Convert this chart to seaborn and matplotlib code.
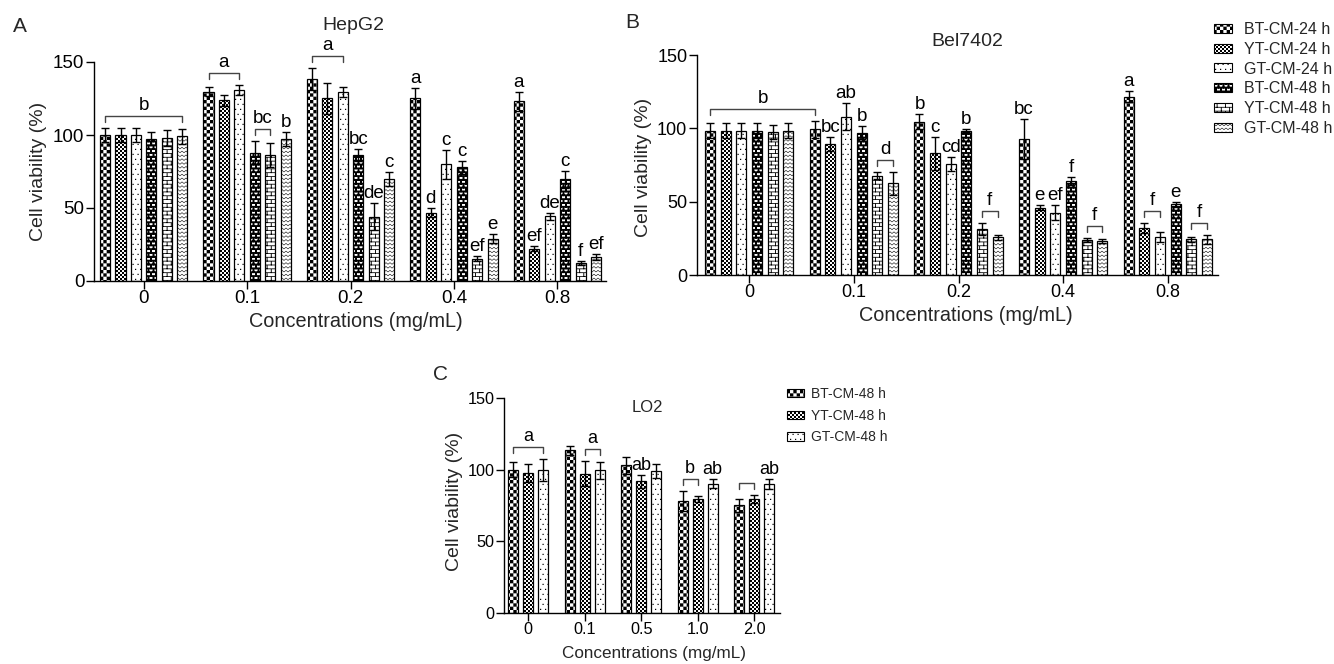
import numpy as np
import pandas as pd
import matplotlib
matplotlib.use("Agg")
import matplotlib.pyplot as plt
import matplotlib.hatch as mhatch
from matplotlib.path import Path
from matplotlib.patches import Patch
import seaborn as sns

# ---------------- data ----------------
conc_ab = ["0", "0.1", "0.2", "0.4", "0.8"]
conc_c = ["0", "0.1", "0.5", "1.0", "2.0"]
treat6 = ["BT-CM-24 h", "YT-CM-24 h", "GT-CM-24 h", "BT-CM-48 h", "YT-CM-48 h", "GT-CM-48 h"]
treat3 = ["BT-CM-48 h", "YT-CM-48 h", "GT-CM-48 h"]

hep_mean = {
    "BT-CM-24 h": [100, 129.6, 138.3, 125, 123],
    "YT-CM-24 h": [100, 123.7, 125, 46.9, 22.2],
    "GT-CM-24 h": [100, 130.8, 129.4, 79.9, 44.4],
    "BT-CM-48 h": [97.5, 87.9, 86.3, 77.9, 69.6],
    "YT-CM-48 h": [98, 86.1, 44, 15.3, 12.4],
    "GT-CM-48 h": [99, 97.3, 69.6, 29.1, 16.5],
}
hep_err = {
    "BT-CM-24 h": [5, 3.2, 7.3, 6.9, 6.4],
    "YT-CM-24 h": [5, 3.6, 10.8, 2.8, 1.6],
    "GT-CM-24 h": [5, 3.4, 3.4, 9.9, 2.5],
    "BT-CM-48 h": [4.5, 8, 3.9, 4.3, 6],
    "YT-CM-48 h": [5.7, 8.2, 9.1, 1.9, 1.1],
    "GT-CM-48 h": [5, 4.8, 4.8, 3.4, 1.8],
}
bel_mean = {
    "BT-CM-24 h": [98.4, 99.3, 104.5, 92.7, 121.6],
    "YT-CM-24 h": [98.4, 89.3, 83, 45.9, 31.8],
    "GT-CM-24 h": [98.4, 108, 75.7, 42.5, 26.1],
    "BT-CM-48 h": [98.4, 97, 98.4, 63.9, 48.2],
    "YT-CM-48 h": [97.5, 67.6, 31.1, 23.6, 24.3],
    "GT-CM-48 h": [98.4, 62.5, 25.7, 23.2, 24.3],
}
bel_err = {
    "BT-CM-24 h": [5, 5.7, 5, 13.9, 3.9],
    "YT-CM-24 h": [5, 4.5, 11.3, 1.6, 3.4],
    "GT-CM-24 h": [5, 9, 4.5, 5, 3.4],
    "BT-CM-48 h": [5, 4.6, 1, 2.7, 1.8],
    "YT-CM-48 h": [5, 2.3, 4.1, 1.4, 1.8],
    "GT-CM-48 h": [5, 8, 1.6, 1.6, 3],
}
lo2_mean = {
    "BT-CM-48 h": [100, 113.5, 103, 78.1, 75.3],
    "YT-CM-48 h": [97.9, 97.2, 91.9, 79.8, 79.5],
    "GT-CM-48 h": [100, 99.5, 98.8, 90.2, 90.2],
}
lo2_err = {
    "BT-CM-48 h": [5.3, 3.2, 5.8, 7, 4.5],
    "YT-CM-48 h": [6.3, 8.6, 4.6, 2.1, 2.6],
    "GT-CM-48 h": [7.7, 5.8, 4.9, 3.1, 3.5],
}
yticks = [0, 50, 100, 150]

# significance letters: (first bar (group, series), last bar, label)
hep_letters = [
    ((0, 0), (0, 5), "b"),
    ((1, 0), (1, 2), "a"), ((1, 3), (1, 4), "bc"), ((1, 5), (1, 5), "b"),
    ((2, 0), (2, 2), "a"), ((2, 3), (2, 3), "bc"), ((2, 4), (2, 4), "de"), ((2, 5), (2, 5), "c"),
    ((3, 0), (3, 0), "a"), ((3, 1), (3, 1), "d"), ((3, 2), (3, 2), "c"), ((3, 3), (3, 3), "c"),
    ((3, 4), (3, 4), "ef"), ((3, 5), (3, 5), "e"),
    ((4, 0), (4, 0), "a"), ((4, 1), (4, 1), "ef"), ((4, 2), (4, 2), "de"), ((4, 3), (4, 3), "c"),
    ((4, 4), (4, 4), "f"), ((4, 5), (4, 5), "ef"),
]
bel_letters = [
    ((0, 0), (1, 0), "b"),
    ((1, 1), (1, 1), "bc"), ((1, 2), (1, 2), "ab"), ((1, 3), (1, 3), "b"), ((1, 4), (1, 5), "d"),
    ((2, 0), (2, 0), "b"), ((2, 1), (2, 1), "c"), ((2, 2), (2, 2), "cd"), ((2, 3), (2, 3), "b"),
    ((2, 4), (2, 5), "f"),
    ((3, 0), (3, 0), "bc"), ((3, 1), (3, 1), "e"), ((3, 2), (3, 2), "ef"), ((3, 3), (3, 3), "f"),
    ((3, 4), (3, 5), "f"),
    ((4, 0), (4, 0), "a"), ((4, 1), (4, 2), "f"), ((4, 3), (4, 3), "e"), ((4, 4), (4, 5), "f"),
]
lo2_letters = [
    ((0, 0), (0, 2), "a"), ((1, 1), (1, 2), "a"), ((2, 1), (2, 1), "ab"),
    ((3, 0), (3, 1), "b"), ((3, 2), (3, 2), "ab"), ((4, 0), (4, 1), ""), ((4, 2), (4, 2), "ab"),
]

# ---------------- custom fill textures (as hatch patterns) ----------------
def rect_path(rects):
    v, c = [], []
    for x0, y0, x1, y1 in rects:
        v += [(x0, y0), (x1, y0), (x1, y1), (x0, y1), (x0, y0)]
        c += [Path.MOVETO, Path.LINETO, Path.LINETO, Path.LINETO, Path.CLOSEPOLY]
    return v, c


def poly_path(polys):
    v, c = [], []
    for p in polys:
        v += list(p) + [p[0]]
        c += [Path.MOVETO] + [Path.LINETO] * (len(p) - 1) + [Path.CLOSEPOLY]
    return v, c


def checker(n):
    s = 1.0 / n
    return rect_path([(i * s, j * s, (i + 1) * s, (j + 1) * s)
                      for i in range(n) for j in range(n) if (i + j) % 2 == 0])


def dots(n, d):
    s = 1.0 / n
    r = []
    for j in range(n):
        off = 0.5 * s if j % 2 else 0.0
        for i in range(n):
            x, y = i * s + off, j * s
            r.append((x, y, x + d, y + d))
    return rect_path(r)


def bricks(rows, nb, t, tv):
    h = 1.0 / rows
    bl = 1.0 / nb
    r = []
    for j in range(rows):
        y = j * h
        r.append((0, y, 1, y + t))
        off = 0.5 * bl if j % 2 else 0.0
        for k in range(nb):
            x = off + k * bl
            r.append((x, y, x + tv, y + h))
    return rect_path(r)


def zigzag(rows, nper, amp, t):
    h = 1.0 / rows
    per = 1.0 / nper
    polys = []
    for j in range(rows):
        yc = (j + 0.5) * h
        for i in range(nper):
            x0 = i * per
            xm = x0 + per / 2
            x1 = x0 + per
            for xa, ya, xb, yb in [(x0, yc - amp / 2, xm, yc + amp / 2),
                                   (xm, yc + amp / 2, x1, yc - amp / 2)]:
                polys.append([(xa, ya - t / 2), (xb, yb - t / 2), (xb, yb + t / 2), (xa, ya + t / 2)])
    return poly_path(polys)


_TEXTURES = {
    "O": checker(30),          # coarse checkerboard
    "o": checker(50),          # fine checkerboard
    ".": dots(20, 0.012),      # sparse dots
    "+": bricks(26, 20, 0.018, 0.02),   # dark brick
    "-": bricks(26, 12, 0.008, 0.009),  # light brick
    "*": zigzag(26, 25, 0.016, 0.007),  # wavy
}


class _TextureHatch:
    def __init__(self, hatch, density):
        v, c = [], []
        for ch, (pv, pc) in _TEXTURES.items():
            if ch in hatch:
                v += pv
                c += pc
        self._v = np.array(v, dtype=float).reshape(-1, 2)
        self._c = np.array(c, dtype=Path.code_type)
        self.num_vertices = len(self._v)

    def set_vertices_and_codes(self, vertices, codes):
        vertices[:] = self._v
        codes[:] = self._c


mhatch._hatch_types = [_TextureHatch]

hatch6 = ["O", "o", ".", "+", "-", "*"]
hatch3 = ["O", "o", "."]

# ---------------- style ----------------
sns.set_style("ticks")
plt.rcParams["font.family"] = ["Liberation Sans", "DejaVu Sans"]
plt.rcParams["hatch.linewidth"] = 0.01
plt.rcParams["hatch.color"] = "black"
plt.rcParams["axes.linewidth"] = 1.0

fig = plt.figure(figsize=(13.34, 6.64), dpi=100)
W, H = 1334, 664


def axes_px(l, t, r, b):
    return fig.add_axes([l / W, 1 - b / H, (r - l) / W, (b - t) / H])


def panel(ax, cats, treats, mean, err, hatches, letters, width, gap, xlim,
          tick_fs, ylabel_xy, xlabel_xy, lab_fs, xlab_fs, let_fs, unit_px):
    rows = []
    for t in treats:
        for ci, c in enumerate(cats):
            rows.append({"conc": c, "treat": t, "value": mean[t][ci]})
    df = pd.DataFrame(rows)
    sns.barplot(data=df, x="conc", y="value", hue="treat", order=cats, hue_order=treats,
                palette={t: "white" for t in treats}, width=width, gap=gap, errorbar=None,
                legend=False, edgecolor="black", linewidth=0.9, saturation=1, ax=ax)
    bars = sorted(ax.patches, key=lambda p: p.get_x())
    nh = len(treats)
    xs = {}
    tops = {}
    for i, b in enumerate(bars):
        g, h = divmod(i, nh)
        b.set_hatch(hatches[h])
        b.set_edgecolor("black")
        x = b.get_x() + b.get_width() / 2
        xs[(g, h)] = x
        tops[(g, h)] = mean[treats[h]][g] + err[treats[h]][g]
    for h, t in enumerate(treats):
        ax.errorbar([xs[(g, h)] for g in range(len(cats))], mean[t], yerr=err[t], fmt="none",
                    ecolor="black", elinewidth=1.0, capsize=2.6, capthick=1.0, zorder=5)
    # significance letters / brackets
    d = 1.0 / unit_px
    for (a, bb, lab) in letters:
        ga, ha = a
        gb, hb = bb
        ia, ib = ga * nh + ha, gb * nh + hb
        span = [divmod(k, nh) for k in range(ia, ib + 1)]
        m = max(tops[s] for s in span)
        x0, x1 = xs[a], xs[bb]
        if ia == ib:
            ax.text(x0, m + 9.5 * d, lab, ha="center", va="center", fontsize=let_fs, color="black")
        else:
            yb = m + 12 * d
            ax.plot([x0, x0, x1, x1], [yb - 6 * d, yb, yb, yb - 6 * d], color="#444444",
                    lw=1.0, clip_on=False, zorder=6)
            if lab:
                ax.text((x0 + x1) / 2, yb + 10.5 * d, lab, ha="center", va="center",
                        fontsize=let_fs, color="black")
    ax.set_xlim(*xlim)
    ax.set_ylim(0, 150)
    ax.set_yticks(yticks)
    ax.set_yticklabels([str(v) for v in yticks])
    ax.set_xticks(range(len(cats)))
    ax.set_xticklabels(cats)
    sns.despine(ax=ax)
    for s in ["left", "bottom"]:
        ax.spines[s].set_color("black")
        ax.spines[s].set_linewidth(1.0)
    ax.tick_params(axis="y", length=6, width=1.0, pad=1, labelsize=tick_fs, colors="black")
    ax.tick_params(axis="x", length=5.5, width=1.0, pad=1, labelsize=tick_fs, colors="black")
    ax.set_ylabel("Cell viability (%)", fontsize=lab_fs)
    ax.set_xlabel("Concentrations (mg/mL)", fontsize=xlab_fs)
    ax.yaxis.set_label_coords(*ylabel_xy)
    ax.xaxis.set_label_coords(*xlabel_xy)
    ax.yaxis.label.set_va("center")
    ax.xaxis.label.set_va("center")


axA = axes_px(94, 62, 606, 281)
panel(axA, conc_ab, treat6, hep_mean, hep_err, hatch6, hep_letters, 0.895, 0.35, (-0.48, 4.47),
      13.5, (-0.109, 0.5), (0.512, -0.187), 14, 14.3, 13.5, 1.46)

axB = axes_px(697, 55, 1218, 275)
panel(axB, conc_ab, treat6, bel_mean, bel_err, hatch6, bel_letters, 0.896, 0.36, (-0.5, 4.48),
      13, (-0.102, 0.49), (0.516, -0.182), 14, 14.3, 13.5, 1.467)

axC = axes_px(504, 398, 780, 613)
panel(axC, conc_c, treat3, lo2_mean, lo2_err, hatch3, lo2_letters, 0.796, 0.33, (-0.43, 4.46),
      11.7, (-0.178, 0.52), (0.543, -0.19), 14, 12.3, 13, 1.433)

# titles and panel letters
fig.text(353 / W, 1 - 25 / H, "HepG2", ha="center", va="center", fontsize=14)
fig.text(967 / W, 1 - 42 / H, "Bel7402", ha="center", va="center", fontsize=14)
fig.text(647 / W, 1 - 408 / H, "LO2", ha="center", va="center", fontsize=12)
fig.text(20 / W, 1 - 27 / H, "A", ha="center", va="center", fontsize=15)
fig.text(632 / W, 1 - 22 / H, "B", ha="center", va="center", fontsize=15)
fig.text(441 / W, 1 - 374 / H, "C", ha="center", va="center", fontsize=15)

# legends
h6 = [Patch(facecolor="white", edgecolor="black", linewidth=0.8, hatch=h) for h in hatch6]
fig.legend(h6, treat6, loc="upper left", bbox_to_anchor=(1214 / W, 1 - 22 / H), frameon=False,
           fontsize=11.5, handlelength=1.15, handleheight=0.5, handletextpad=0.7,
           labelspacing=0.3, borderpad=0, borderaxespad=0)
h3 = [Patch(facecolor="white", edgecolor="black", linewidth=0.8, hatch=h) for h in hatch3]
fig.legend(h3, treat3, loc="upper left", bbox_to_anchor=(787 / W, 1 - 387 / H), frameon=False,
           fontsize=10, handlelength=1.25, handleheight=0.55, handletextpad=0.5,
           labelspacing=0.55, borderpad=0, borderaxespad=0)

fig.savefig("out.png", dpi=100)
